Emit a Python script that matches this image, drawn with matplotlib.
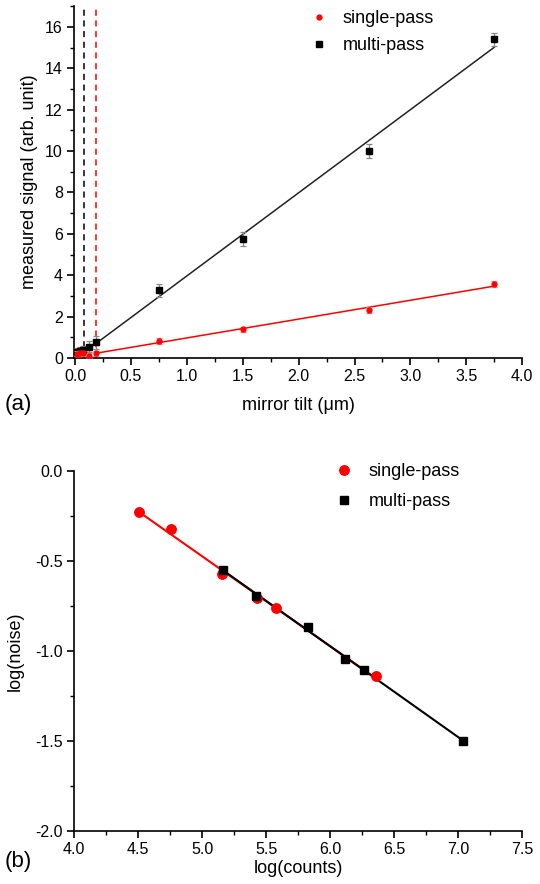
import numpy as np
import matplotlib
matplotlib.use("Agg")
import matplotlib.pyplot as plt
from matplotlib.ticker import MultipleLocator, FormatStrFormatter
from matplotlib.lines import Line2D

plt.rcParams['font.family'] = ['Liberation Sans', 'DejaVu Sans']

# ---------- panel (a) data ----------
tilt = [0.02, 0.04, 0.07, 0.12, 0.19, 0.75, 1.50, 2.63, 3.75]
single_sig = [0.20, 0.22, 0.24, 0.10, 0.24, 0.82, 1.38, 2.32, 3.57]
single_err = [0.12, 0.12, 0.12, 0.12, 0.12, 0.14, 0.12, 0.14, 0.14]
multi_sig = [0.30, 0.35, 0.38, 0.55, 0.75, 3.28, 5.75, 10.00, 15.40]
multi_err = [0.20, 0.20, 0.20, 0.25, 0.30, 0.32, 0.35, 0.35, 0.32]
vline_multi = 0.083
vline_single = 0.186

# ---------- panel (b) data ----------
single_logc = [4.51, 4.756, 5.159, 5.426, 5.58, 6.36]
single_logn = [-0.229, -0.322, -0.574, -0.704, -0.763, -1.139]
multi_logc = [5.164, 5.424, 5.826, 6.12, 6.266, 7.04]
multi_logn = [-0.55, -0.694, -0.865, -1.046, -1.104, -1.50]

TICK = 11.5
LAB = 13
LEG = 13

fig = plt.figure(figsize=(5.4, 8.84), dpi=100)
axa = fig.add_axes([0.137, 0.595, 0.830, 0.398])
axb = fig.add_axes([0.137, 0.060, 0.830, 0.407])

def style(ax):
    for s in ('top', 'right'):
        ax.spines[s].set_visible(False)
    for s in ('left', 'bottom'):
        ax.spines[s].set_linewidth(1.2)
    ax.tick_params(which='major', direction='out', length=5, width=1.2, labelsize=TICK, pad=3)
    ax.tick_params(which='minor', direction='out', length=3, width=1.0)

# ----- panel a -----
ta = np.array(tilt)
ss = np.array(single_sig)
ms = np.array(multi_sig)
axa.axvline(vline_multi, color='black', ls=(0, (4, 3)), lw=1.1)
axa.axvline(vline_single, color='red', ls=(0, (4, 3)), lw=1.1)

sel = ta >= 0.18
pm = np.polyfit(ta[sel], ms[sel], 1)
ps = np.polyfit(ta[sel], ss[sel], 1)
xf = np.array([ta[sel].min(), ta[sel].max()])
axa.plot(xf, np.polyval(pm, xf), color='#222222', lw=1.1)
axa.plot(xf, np.polyval(ps, xf), color='red', lw=1.1)

axa.errorbar(tilt, multi_sig, yerr=multi_err, fmt='s', color='black', ms=4.2,
             ecolor='#888888', elinewidth=0.9, capsize=2.5, capthick=0.9, zorder=3)
axa.errorbar(tilt, single_sig, yerr=single_err, fmt='o', color='red', ms=3.5,
             ecolor='#f08080', elinewidth=0.9, capsize=2.5, capthick=0.9, zorder=4)

axa.set_xlim(-0.01, 4.0)
axa.set_ylim(0, 17)
axa.xaxis.set_major_locator(MultipleLocator(0.5))
axa.xaxis.set_minor_locator(MultipleLocator(0.25))
axa.yaxis.set_major_locator(MultipleLocator(2))
axa.yaxis.set_minor_locator(MultipleLocator(1))
axa.xaxis.set_major_formatter(FormatStrFormatter('%.1f'))
style(axa)
axa.set_xlabel('mirror tilt (\u03bcm)', fontsize=LAB, va='center')
axa.xaxis.set_label_coords(0.5, -0.136)
axa.set_ylabel('measured signal (arb. unit)', fontsize=LAB, va='center')
axa.yaxis.set_label_coords(-0.1, 0.5)
ha = [Line2D([], [], ls='none', marker='o', color='red', ms=3.5),
      Line2D([], [], ls='none', marker='s', color='black', ms=4.2)]
axa.legend(ha, ['single-pass', 'multi-pass'], loc='upper left', bbox_to_anchor=(0.49, 1.034),
           frameon=False, fontsize=LEG, handlelength=1.0, handletextpad=0.8, labelspacing=0.55)
fig.text(0.008, 1 - 405 / 884, '(a)', fontsize=16, va='center', ha='left')

# ----- panel b -----
sc = np.array(single_logc); sn = np.array(single_logn)
mc = np.array(multi_logc); mn = np.array(multi_logn)
p1 = np.polyfit(sc, sn, 1)
p2 = np.polyfit(mc, mn, 1)
x1 = np.array([sc.min(), sc.max()])
x2 = np.array([mc.min(), mc.max()])
axb.plot(x1, np.polyval(p1, x1), color='red', lw=1.5, zorder=2)
axb.plot(x2, np.polyval(p2, x2), color='black', lw=1.5, zorder=3)
axb.plot(single_logc, single_logn, 'o', color='red', ms=6.8, label='single-pass', zorder=4)
axb.plot(multi_logc, multi_logn, 's', color='black', ms=6.0, label='multi-pass', zorder=5)
axb.set_xlim(4.0, 7.5)
axb.set_ylim(-2.0, 0.0)
axb.xaxis.set_major_locator(MultipleLocator(0.5))
axb.xaxis.set_minor_locator(MultipleLocator(0.25))
axb.yaxis.set_major_locator(MultipleLocator(0.5))
axb.yaxis.set_minor_locator(MultipleLocator(0.25))
axb.xaxis.set_major_formatter(FormatStrFormatter('%.1f'))
axb.yaxis.set_major_formatter(FormatStrFormatter('%.1f'))
style(axb)
axb.set_xlabel('log(counts)', fontsize=LAB, va='center')
axb.xaxis.set_label_coords(0.5, -0.103)
axb.set_ylabel('log(noise)', fontsize=LAB, va='center')
axb.yaxis.set_label_coords(-0.13, 0.5)
axb.legend(loc='upper left', bbox_to_anchor=(0.545, 1.068), frameon=False, fontsize=LEG,
           handlelength=1.0, handletextpad=0.9, labelspacing=0.75)
fig.text(0.008, 1 - 862 / 884, '(b)', fontsize=16, va='center', ha='left')

fig.savefig('out.png', dpi=100)
